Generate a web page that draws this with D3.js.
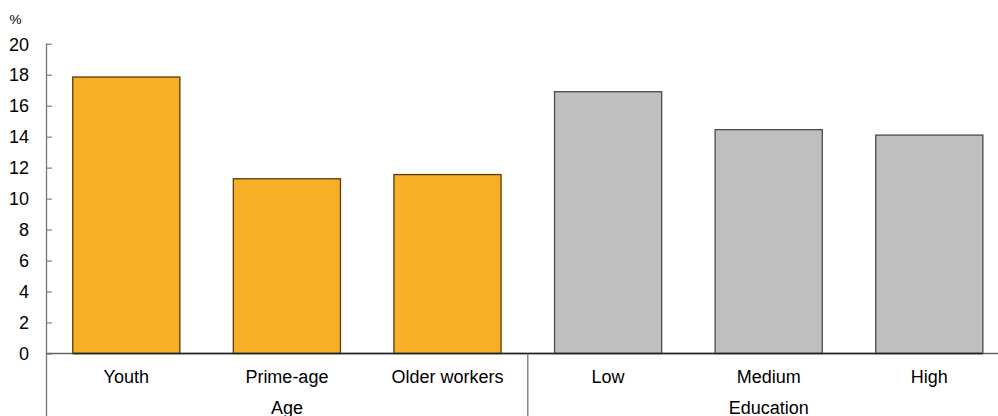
<!DOCTYPE html>
<html><head><meta charset="utf-8">
<script src="https://cdn.jsdelivr.net/npm/d3@7"></script>
<style>body{margin:0;background:#fff}svg{display:block;font-family:"Liberation Sans",Arial,Helvetica,sans-serif}</style>
</head><body>
<script>
const categories = ["Youth","Prime-age","Older workers","Low","Medium","High"];
const values = [17.85, 11.28, 11.55, 16.9, 14.45, 14.1];
const groups = ["Age","Age","Age","Education","Education","Education"];
const groupNames = ["Age","Education"];
const yTicks = [0,2,4,6,8,10,12,14,16,18,20];
const colors = {Age:"#F6AF26", Education:"#BFBFBF"};
const strokes = {Age:"#5a3c0c", Education:"#4a4a4a"};

const W = 998, H = 416;
const FS = 18;
const svg = d3.select("body").append("svg").attr("width",W).attr("height",H);
const x = d3.scaleBand().domain(categories).range([46, 1009.6]).paddingInner(0.333).paddingOuter(0.1665);
const y = d3.scaleLinear().domain([0,20]).range([353.5, 43.7]);

// y axis
const ya = svg.append("g").attr("transform","translate(46,0)")
  .call(d3.axisRight(y).tickValues(yTicks).tickSize(6).tickFormat(d3.format("d")));
ya.select(".domain").remove();
ya.attr("font-size",null).attr("font-family",null);
ya.selectAll(".tick line").attr("stroke","#666");
ya.selectAll(".tick text").attr("x",-17).attr("text-anchor","end").attr("font-size",FS).attr("fill","#000").attr("dy","0.35em");
svg.append("line").attr("x1",46.5).attr("x2",46.5).attr("y1",y(20)).attr("y2",H).attr("stroke","#777").attr("stroke-width",1.3);
svg.append("text").attr("x",9.5).attr("y",24).attr("font-size",13.5).text("%");

// bars
svg.selectAll("rect.bar").data(categories).join("rect")
  .attr("x",d=>x(d)).attr("width",x.bandwidth())
  .attr("y",(d,i)=>y(values[i])).attr("height",(d,i)=>y(0)-y(values[i]))
  .attr("fill",(d,i)=>colors[groups[i]]).attr("stroke",(d,i)=>strokes[groups[i]]).attr("stroke-width",1.3);

// zero line
svg.append("line").attr("x1",46).attr("x2",W).attr("y1",y(0)).attr("y2",y(0)).attr("stroke","#666").attr("stroke-width",1.3);
svg.append("line").attr("x1",x(categories[0])).attr("x2",x(categories[5])+x.bandwidth()).attr("y1",y(0)).attr("y2",y(0)).attr("stroke","#222").attr("stroke-width",1.3);

// category labels
svg.selectAll("text.cat").data(categories).join("text")
  .attr("x",d=>x(d)+x.bandwidth()/2).attr("y",383).attr("text-anchor","middle").attr("font-size",FS).text(d=>d);

// group separator and labels
const step = x.step();
const sepX = x(categories[3]) - (step - x.bandwidth())/2;
svg.append("line").attr("x1",sepX).attr("x2",sepX).attr("y1",y(0)).attr("y2",H).attr("stroke","#777").attr("stroke-width",1.3);
groupNames.forEach(g=>{
  const idx = groups.map((v,i)=>v===g?i:-1).filter(i=>i>=0);
  const cx = (x(categories[idx[0]]) + x(categories[idx[idx.length-1]]) + x.bandwidth())/2;
  svg.append("text").attr("x",cx).attr("y",414).attr("text-anchor","middle").attr("font-size",FS).text(g);
});
</script>
</body></html>
